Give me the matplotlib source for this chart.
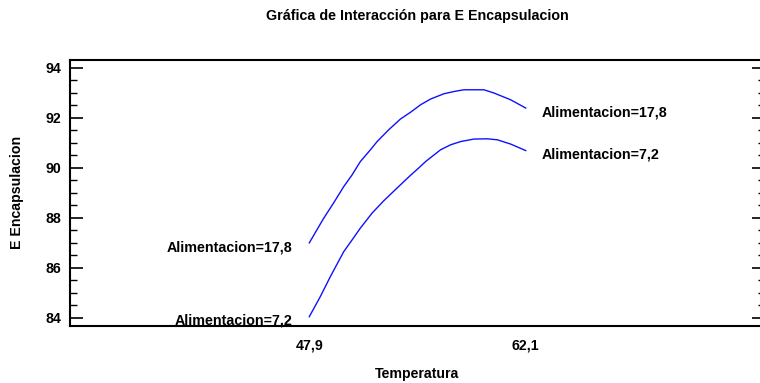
import matplotlib.pyplot as plt
import numpy as np

plt.rcParams['font.family'] = ['Liberation Sans', 'DejaVu Sans']
plt.rcParams['font.weight'] = 'bold'

# temperatura / E encapsulacion along each curve
temp_alto = [47.9, 48.84, 49.50, 50.16, 50.71, 51.25, 51.91, 52.35, 53.11, 53.88, 54.54, 55.2,
             55.86, 56.73, 57.39, 58.04, 59.36, 60.02, 61.11, 62.1]
enc_alto = [87.0, 87.98, 88.6, 89.25, 89.72, 90.25, 90.72, 91.05, 91.52, 91.95, 92.22, 92.52,
            92.75, 92.96, 93.05, 93.12, 93.12, 92.99, 92.72, 92.39]

temp_bajo = [47.9, 48.62, 49.28, 50.16, 50.71, 51.25, 52.02, 52.78, 53.88, 54.54, 55.09, 55.53,
             56.51, 57.17, 57.83, 58.70, 59.58, 60.24, 61.11, 62.1]
enc_bajo = [84.05, 84.85, 85.65, 86.65, 87.12, 87.59, 88.19, 88.68, 89.32, 89.70, 90.0, 90.25,
            90.72, 90.92, 91.05, 91.15, 91.16, 91.12, 90.95, 90.69]

etiquetas = ["Alimentacion=17,8", "Alimentacion=7,2"]
xticks = [47.9, 62.1]
xticklabels = ["47,9", "62,1"]
yticks = [84, 86, 88, 90, 92, 94]

fig = plt.figure(figsize=(7.6, 3.83), dpi=100)
ax = fig.add_axes([70 / 760, 57.3 / 383, 695 / 760, 265.7 / 383])

ax.plot(temp_alto, enc_alto, color="#1010ff", lw=1.0)
ax.plot(temp_bajo, enc_bajo, color="#1010ff", lw=1.0)

# labels at both ends of each curve
for t, e, lab in [(temp_alto, enc_alto, etiquetas[0]), (temp_bajo, enc_bajo, etiquetas[1])]:
    ax.annotate(lab, (t[-1], e[-1]), xytext=(11.5, -3), textcoords="offset points",
                ha="left", va="center", fontsize=10.3, fontweight="bold")
    ax.annotate(lab, (t[0], e[0]), xytext=(-12, -3), textcoords="offset points",
                ha="right", va="center", fontsize=10.3, fontweight="bold")

ax.set_xlim(32.2, 77.8)
ax.set_ylim(83.69, 94.31)
ax.set_xticks(xticks)
ax.set_xticklabels(xticklabels)
ax.set_yticks(yticks)
ax.set_yticks(np.arange(84, 94.01, 0.5), minor=True)

ax.tick_params(axis="x", length=0, pad=9, labelsize=10.2)
ax.tick_params(axis="y", which="major", direction="in", length=9.5, width=1.2,
               right=True, labelsize=10.2, pad=6)
ax.tick_params(axis="y", which="minor", direction="in", length=5, width=1.0, right=True)
for s in ax.spines.values():
    s.set_linewidth(1.5)

ax.set_xlabel("Temperatura", fontsize=10.2, fontweight="bold", labelpad=11)
ax.set_ylabel("E Encapsulacion", fontsize=10.2, fontweight="bold", labelpad=16)
ax.set_title("Gráfica de Interacción para E Encapsulacion", fontsize=10.3, fontweight="bold", pad=29)

fig.savefig("out.png", dpi=100)
